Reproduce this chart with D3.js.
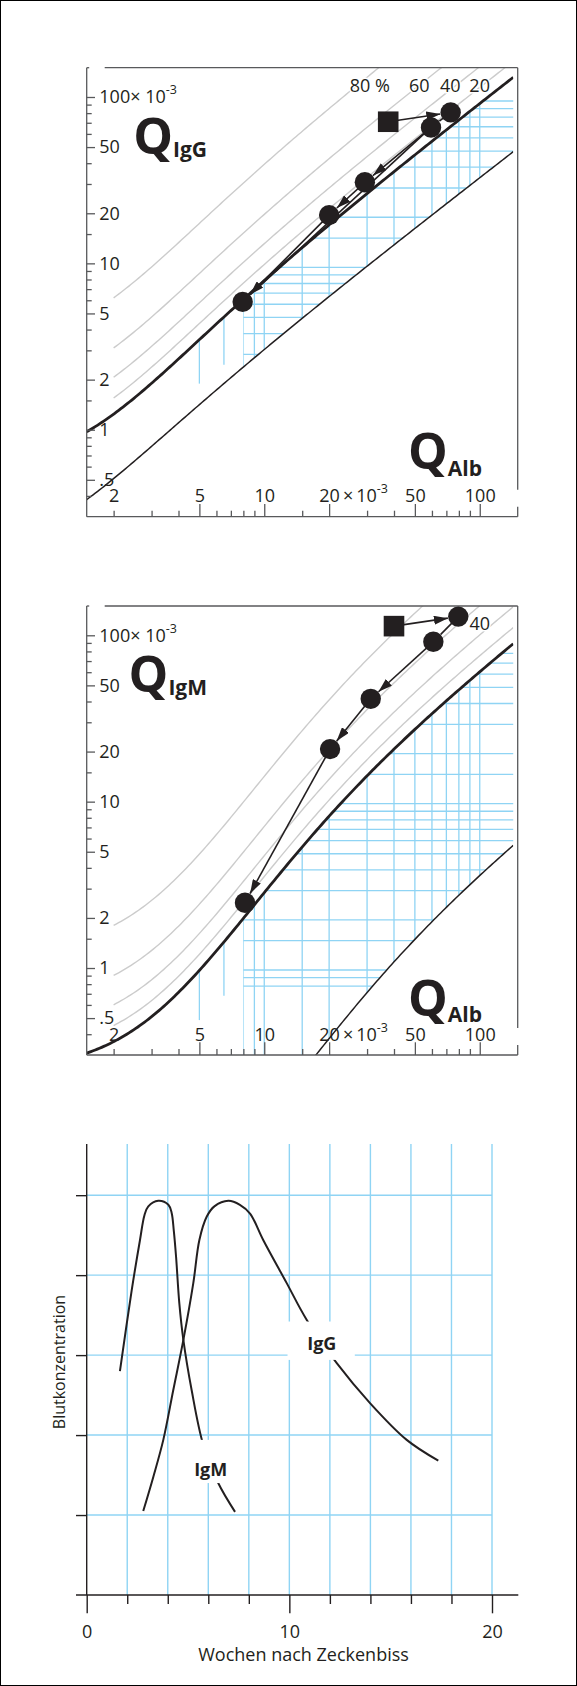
<!DOCTYPE html>
<html>
<head>
<meta charset="utf-8">
<script src="https://cdn.jsdelivr.net/npm/d3@7"></script>
<style>
  body { margin: 0; background: #fff; }
  text { font-family: "Open Sans", sans-serif; }
</style>
</head>
<body>
<svg id="chart" width="577" height="1686"></svg>
<script>
// Reiber hyperbolas: a * sqrt(QAlb^2 + b) - c   (all quotients x 10^-3)
const iggUpper = [0.93, 6, 1.7];
const iggLower = [0.33, 2, 0.3];
const igmUpper = [0.67, 120, 7.1];
const igmLower = [0.044, 442, 0.9];
const intrathecalFractions = [0.2, 0.4, 0.6, 0.8];

// course of the patient, first entry = square (first puncture)
const iggQAlb = [37.6, 73.3, 59.4, 29.3, 20.0, 7.94];
const iggQ    = [71.0, 80.8, 65.6, 30.7, 19.5, 5.87];
const iggLinks = [[0, 1, true], [1, 2, false], [2, 3, true], [3, 4, true], [4, 5, true], [2, 5, false]];
const igmQAlb = [40.0, 79.5, 60.9, 31.2, 20.2, 8.14];
const igmQ    = [113.5, 129.5, 91.4, 41.5, 20.7, 2.47];
const igmLinks = [[0, 1, true], [1, 2, false], [2, 3, true], [3, 4, true], [4, 5, true]];

const qAlbDomain = [1.5, 150];
const qIgDomain = [0.3, 150];
const xTickMajor = [5, 10, 20, 50, 100];
const xTickMinor = [2, 3, 4, 6, 7, 8, 9, 15, 30, 40, 60, 70, 80, 90];
const xTickLabels = [2, 5, 10, 20, 50, 100];
const yTickMajor = [0.5, 1, 2, 5, 10, 20, 50, 100];
const yTickMinor = [0.4, 0.6, 0.7, 0.8, 0.9, 1.5, 3, 4, 6, 7, 8, 9, 15, 30, 40, 60, 70, 80, 90];

// blue reference grid
const gridQAlb = [8, 9, 10, 15, 20, 30, 40, 50, 60, 70, 80, 90, 100];
const iggGridQ = [3, 4, 5, 6, 7, 8, 9, 10, 15, 20, 30, 40, 50, 60, 70, 80, 90, 100];
const igmGridQ = [0.8, 0.9, 1, 1.5, 2, 3, 4, 5, 6, 7, 8, 9, 10, 15, 20, 30, 40, 50, 60, 70, 80, 90];
const ageQAlb = [5, 6.5];
const iggAgeFloor = [2, 2.6];
const igmAgeFloor = [0.5, 0.7];

const iggPctText = ["80 %", "60", "40", "20"];
const iggPctQAlb = [30.9, 52.4, 73, 99.9];
const iggPctQ = [107, 107, 107, 107];
const igmPctText = ["40"];
const igmPctQAlb = [100];
const igmPctQ = [108];

// time course (weeks after tick bite, relative blood level)
const weekLabels = [0, 10, 20];
const weekMinor = [2, 4, 6, 8, 12, 14, 16, 18];
const gridWeeks = [2, 4, 6, 8, 10, 12, 14, 16, 18, 20];
const levelGrid = [1, 2, 3, 4, 5];
const igmWeeks = [1.64, 2.22, 2.63, 2.85, 3.04, 3.53, 4.03, 4.19, 4.30, 4.41, 4.57, 4.77, 5.18, 5.75, 6.49, 7.32];
const igmLevel = [2.80, 3.81, 4.44, 4.75, 4.86, 4.93, 4.88, 4.78, 4.55, 4.23, 3.65, 3.19, 2.56, 1.88, 1.40, 1.04];
const iggWeeks = [2.79, 3.29, 3.78, 4.27, 4.77, 5.26, 5.56, 5.92, 6.30, 6.99, 7.56, 8.06, 8.71, 9.87, 10.86, 12.34, 13.98, 15.79, 17.35];
const iggLevel = [1.05, 1.48, 1.94, 2.56, 3.19, 3.90, 4.44, 4.73, 4.86, 4.93, 4.88, 4.77, 4.44, 3.90, 3.44, 2.90, 2.40, 1.94, 1.68];

const ink = "#231f20", axisInk = "#58595b", blue = "#8fd4f4", grey = "#cccccc";
const svg = d3.select("#chart");

svg.append("rect").attr("x", 0.5).attr("y", 0.5).attr("width", 576).attr("height", 1685)
  .attr("fill", "#fff").attr("stroke", "#000").attr("stroke-width", 1);

const defs = svg.append("defs");
defs.append("marker").attr("id", "arrow")
  .attr("viewBox", "0 0 14 9").attr("refX", 14).attr("refY", 4.5)
  .attr("markerWidth", 14).attr("markerHeight", 9)
  .attr("markerUnits", "userSpaceOnUse").attr("orient", "auto")
  .append("path").attr("d", "M0,0L14,4.5L0,9Z").attr("fill", ink);

function reiber(q, k) { return k[0] * Math.sqrt(q * q + k[1]) - k[2]; }
function logSpan(lo, hi, n) { return d3.range(n + 1).map(i => lo * Math.pow(hi / lo, i / n)); }

function reiberPanel(o) {
  const left = 86.7, right = 517.7, top = o.top, bottom = o.top + 449;
  const qAlbEnd = 143;
  const x = d3.scaleLog().domain(qAlbDomain).range([left, right]);
  const y = d3.scaleLog().domain(qIgDomain).range([bottom, top]);
  const g = svg.append("g");
  const line = d3.line();

  defs.append("clipPath").attr("id", o.id + "-plot").append("rect")
    .attr("x", left).attr("y", top).attr("width", x(qAlbEnd) - left).attr("height", bottom - top);

  // region between the two limit curves
  const qs = logSpan(8, qAlbEnd, 120);
  const upperPts = qs.map(q => [x(q), y(Math.min(reiber(q, o.upper), qIgDomain[1]))]);
  const lowerPts = qs.slice().reverse().map(q => [x(q), y(Math.max(reiber(q, o.lower), qIgDomain[0]))]);
  defs.append("clipPath").attr("id", o.id + "-grid").append("polygon")
    .attr("points", upperPts.concat(lowerPts).map(p => p.join(",")).join(" "));

  const grid = g.append("g").attr("clip-path", `url(#${o.id}-grid)`)
    .append("g").attr("transform", `translate(0,${o.gridShift})`)
    .attr("stroke", blue).attr("stroke-width", 1.3);
  grid.selectAll("line.v").data(gridQAlb).enter().append("line")
    .attr("x1", d => x(d)).attr("x2", d => x(d)).attr("y1", top - 10).attr("y2", bottom + 10);
  grid.selectAll("line.h").data(o.gridQ).enter().append("line")
    .attr("x1", left).attr("x2", right).attr("y1", d => y(d)).attr("y2", d => y(d));

  g.append("g").attr("stroke", blue).attr("stroke-width", 1.3)
    .selectAll("line").data(ageQAlb).enter().append("line")
    .attr("x1", d => x(d)).attr("x2", d => x(d))
    .attr("y1", d => y(reiber(d, o.upper)))
    .attr("y2", (d, i) => y(o.ageFloor[i]) + o.gridShift);

  const curves = g.append("g").attr("clip-path", `url(#${o.id}-plot)`).attr("fill", "none");
  curves.selectAll("path.if").data(intrathecalFractions).enter().append("path")
    .attr("stroke", grey).attr("stroke-width", 1.4)
    .attr("d", f => line(logSpan(2, qAlbEnd, 160).map(q => [x(q), y(reiber(q, o.upper) / (1 - f))])));
  curves.append("path").attr("stroke", ink).attr("stroke-width", 1.5)
    .attr("d", line(logSpan(1.5, qAlbEnd, 200).map(q => [x(q), y(Math.max(reiber(q, o.lower), 0.05))])));
  curves.append("path").attr("stroke", ink).attr("stroke-width", 2.8)
    .attr("d", line(logSpan(1.5, qAlbEnd, 200).map(q => [x(q), y(reiber(q, o.upper))])));

  // frame
  const frame = g.append("g").attr("stroke", axisInk).attr("stroke-width", 1.3);
  frame.append("line").attr("x1", left).attr("x2", left).attr("y1", top).attr("y2", bottom);
  frame.append("line").attr("x1", left).attr("x2", right).attr("y1", bottom).attr("y2", bottom);
  frame.append("line").attr("x1", left + 18).attr("x2", right).attr("y1", top).attr("y2", top);
  frame.append("line").attr("x1", left).attr("x2", left + 2.5).attr("y1", top).attr("y2", top);
  frame.append("line").attr("x1", right).attr("x2", right).attr("y1", top).attr("y2", bottom - 27);
  frame.append("line").attr("x1", right).attr("x2", right).attr("y1", bottom - 10).attr("y2", bottom);

  function ticks(axis, tr) {
    g.append("g").attr("transform", tr).call(axis)
      .call(s => s.select(".domain").remove())
      .call(s => s.selectAll("line").attr("stroke", axisInk).attr("stroke-width", 1.3));
  }
  ticks(d3.axisRight(y).tickValues(yTickMinor).tickSize(5).tickFormat(""), `translate(${left},0)`);
  ticks(d3.axisRight(y).tickValues(yTickMajor).tickSize(8.3).tickFormat(""), `translate(${left},0)`);
  ticks(d3.axisTop(x).tickValues(xTickMinor).tickSize(6).tickFormat(""), `translate(0,${bottom})`);
  ticks(d3.axisTop(x).tickValues(xTickMajor).tickSize(12.7).tickFormat(""), `translate(0,${bottom})`);

  const yl = g.append("g").attr("transform", `translate(${left},0)`)
    .call(d3.axisRight(y).tickValues(yTickMajor).tickSize(0).tickPadding(12.6)
      .tickFormat(d => d < 1 ? String(d).replace(/^0/, "") : String(d)))
    .attr("font-family", null).attr("font-size", 18).attr("color", ink);
  yl.select(".domain").remove();
  yl.selectAll(".tick text").filter(d => d === 100).each(function () {
    const t = d3.select(this);
    t.append("tspan").text("\u00d7 10");
    t.append("tspan").attr("dy", -9).attr("font-size", 12.5).text("-3");
  });

  const xl = g.append("g").attr("transform", `translate(0,${bottom})`)
    .call(d3.axisTop(x).tickValues(xTickLabels).tickSize(0).tickPadding(14.3).tickFormat(String))
    .attr("font-family", null).attr("font-size", 18).attr("color", ink);
  xl.select(".domain").remove();
  xl.selectAll(".tick text").filter(d => d === 20).each(function () {
    const t = d3.select(this), w = this.getComputedTextLength();
    t.attr("text-anchor", "start").attr("x", -w / 2);
    t.append("tspan").text("\u2009\u00d7\u200910");
    t.append("tspan").attr("dy", -9).attr("font-size", 12.5).text("-3");
  });

  // intrathecal fraction labels
  g.selectAll("text.pct").data(o.pctText).enter().append("text")
    .attr("x", (d, i) => x(o.pctQAlb[i])).attr("y", (d, i) => y(o.pctQ[i]))
    .attr("text-anchor", "middle").attr("font-size", 18).attr("fill", ink)
    .attr("stroke", "#fff").attr("stroke-width", 3).attr("paint-order", "stroke")
    .text(d => d);

  // big quotient labels
  const ql = g.append("text").attr("x", 207).attr("y", top + 86.4)
    .attr("text-anchor", "end").attr("font-weight", 700).attr("fill", ink);
  ql.append("tspan").attr("font-size", 50).text("Q");
  ql.append("tspan").attr("font-size", 21).attr("dy", 3).text(o.sub);
  const qa = g.append("text").attr("x", 482).attr("y", bottom - o.qAlbRaise)
    .attr("text-anchor", "end").attr("font-weight", 700).attr("fill", ink);
  qa.append("tspan").attr("font-size", 50).text("Q");
  qa.append("tspan").attr("font-size", 21).attr("dy", 6.7).text("Alb");

  // patient course
  const pts = o.qAlb.map((d, i) => [x(d), y(o.q[i])]);
  g.append("g").selectAll("line").data(o.links).enter().append("line")
    .each(function (l) {
      const p0 = pts[l[0]], p1 = pts[l[1]];
      const dx = p1[0] - p0[0], dy = p1[1] - p0[1], L = Math.hypot(dx, dy), cut = 10.5;
      d3.select(this).attr("x1", p0[0]).attr("y1", p0[1])
        .attr("x2", p1[0] - dx / L * cut).attr("y2", p1[1] - dy / L * cut);
    })
    .attr("stroke", ink).attr("stroke-width", 1.6)
    .attr("marker-end", l => l[2] ? "url(#arrow)" : null);
  g.append("rect").attr("x", pts[0][0] - 10.3).attr("y", pts[0][1] - 10.3)
    .attr("width", 20.6).attr("height", 20.6).attr("fill", ink);
  g.append("g").selectAll("circle").data(pts.slice(1)).enter().append("circle")
    .attr("cx", d => d[0]).attr("cy", d => d[1]).attr("r", 10.2).attr("fill", ink);
}

reiberPanel({ id: "igg", top: 67.7, sub: "IgG", upper: iggUpper, lower: iggLower,
  qAlb: iggQAlb, q: iggQ, links: iggLinks, gridQ: iggGridQ, ageFloor: iggAgeFloor,
  pctText: iggPctText, pctQAlb: iggPctQAlb, pctQ: iggPctQ, gridShift: 4, qAlbRaise: 47.7 });
reiberPanel({ id: "igm", top: 606, sub: "IgM", upper: igmUpper, lower: igmLower,
  qAlb: igmQAlb, q: igmQ, links: igmLinks, gridQ: igmGridQ, ageFloor: igmAgeFloor,
  pctText: igmPctText, pctQAlb: igmPctQAlb, pctQ: igmPctQ, gridShift: 2, qAlbRaise: 39.3 });

// ---- time course panel ----
(function () {
  const x = d3.scaleLinear().domain([0, 20]).range([86.7, 492]);
  const y = d3.scaleLinear().domain([0, 5.64]).range([1595, 1144]);
  const g = svg.append("g");

  const grid = g.append("g").attr("stroke", blue).attr("stroke-width", 1.4);
  grid.selectAll("line.v").data(gridWeeks).enter().append("line")
    .attr("x1", d => x(d)).attr("x2", d => x(d)).attr("y1", y(5.64)).attr("y2", y(0));
  grid.selectAll("line.h").data(levelGrid).enter().append("line")
    .attr("x1", x(0)).attr("x2", x(20)).attr("y1", d => y(d)).attr("y2", d => y(d));

  const curve = d3.line().x(d => x(d[0])).y(d => y(d[1])).curve(d3.curveCatmullRom.alpha(0.5));
  g.append("path").attr("fill", "none").attr("stroke", ink).attr("stroke-width", 2)
    .attr("d", curve(igmWeeks.map((w, i) => [w, igmLevel[i]])));
  g.append("path").attr("fill", "none").attr("stroke", ink).attr("stroke-width", 2)
    .attr("d", curve(iggWeeks.map((w, i) => [w, iggLevel[i]])));

  const ax = g.append("g").attr("stroke", ink).attr("stroke-width", 1.4);
  ax.append("line").attr("x1", x(0)).attr("x2", x(0)).attr("y1", y(5.64)).attr("y2", y(0));
  ax.append("line").attr("x1", x(0) - 10.7).attr("x2", x(20) + 26.3).attr("y1", y(0)).attr("y2", y(0));

  function ticks(axis, tr) {
    g.append("g").attr("transform", tr).call(axis)
      .call(s => s.select(".domain").remove())
      .call(s => s.selectAll("line").attr("stroke", ink).attr("stroke-width", 1.4));
  }
  ticks(d3.axisLeft(y).tickValues(levelGrid).tickSize(10.7).tickFormat(""), `translate(${x(0)},0)`);
  ticks(d3.axisBottom(x).tickValues(weekMinor).tickSize(9).tickFormat(""), `translate(0,${y(0)})`);
  ticks(d3.axisBottom(x).tickValues(weekLabels).tickSize(18.3).tickFormat(""), `translate(0,${y(0)})`);

  const xl = g.append("g").attr("transform", `translate(0,${y(0)})`)
    .call(d3.axisBottom(x).tickValues(weekLabels).tickSize(0).tickPadding(30.5).tickFormat(String))
    .attr("font-family", null).attr("font-size", 18).attr("color", ink);
  xl.select(".domain").remove();

  g.append("text").attr("x", x(10.7)).attr("y", 1660.7).attr("text-anchor", "middle")
    .attr("font-size", 18).attr("fill", ink).text("Wochen nach Zeckenbiss");
  g.append("text").attr("transform", "translate(65,1362) rotate(-90)").attr("text-anchor", "middle")
    .attr("font-size", 16).attr("fill", ink).text("Blutkonzentration");

  // curve labels on white boxes
  const boxes = [
    { text: "IgG", w0: 9.91, w1: 13.23, l0: 2.94, l1: 3.42, tw: 11.6, tl: 3.06 },
    { text: "IgM", w0: 5.0, w1: 7.95, l0: 1.40, l1: 1.94, tw: 6.12, tl: 1.49 }
  ];
  g.selectAll("rect.box").data(boxes).enter().append("rect")
    .attr("x", d => x(d.w0)).attr("y", d => y(d.l1))
    .attr("width", d => x(d.w1) - x(d.w0)).attr("height", d => y(d.l0) - y(d.l1))
    .attr("fill", "#fff");
  g.selectAll("text.lab").data(boxes).enter().append("text")
    .attr("x", d => x(d.tw)).attr("y", d => y(d.tl)).attr("text-anchor", "middle")
    .attr("font-size", 18).attr("font-weight", 700).attr("fill", ink).text(d => d.text);
})();
</script>
</body>
</html>
